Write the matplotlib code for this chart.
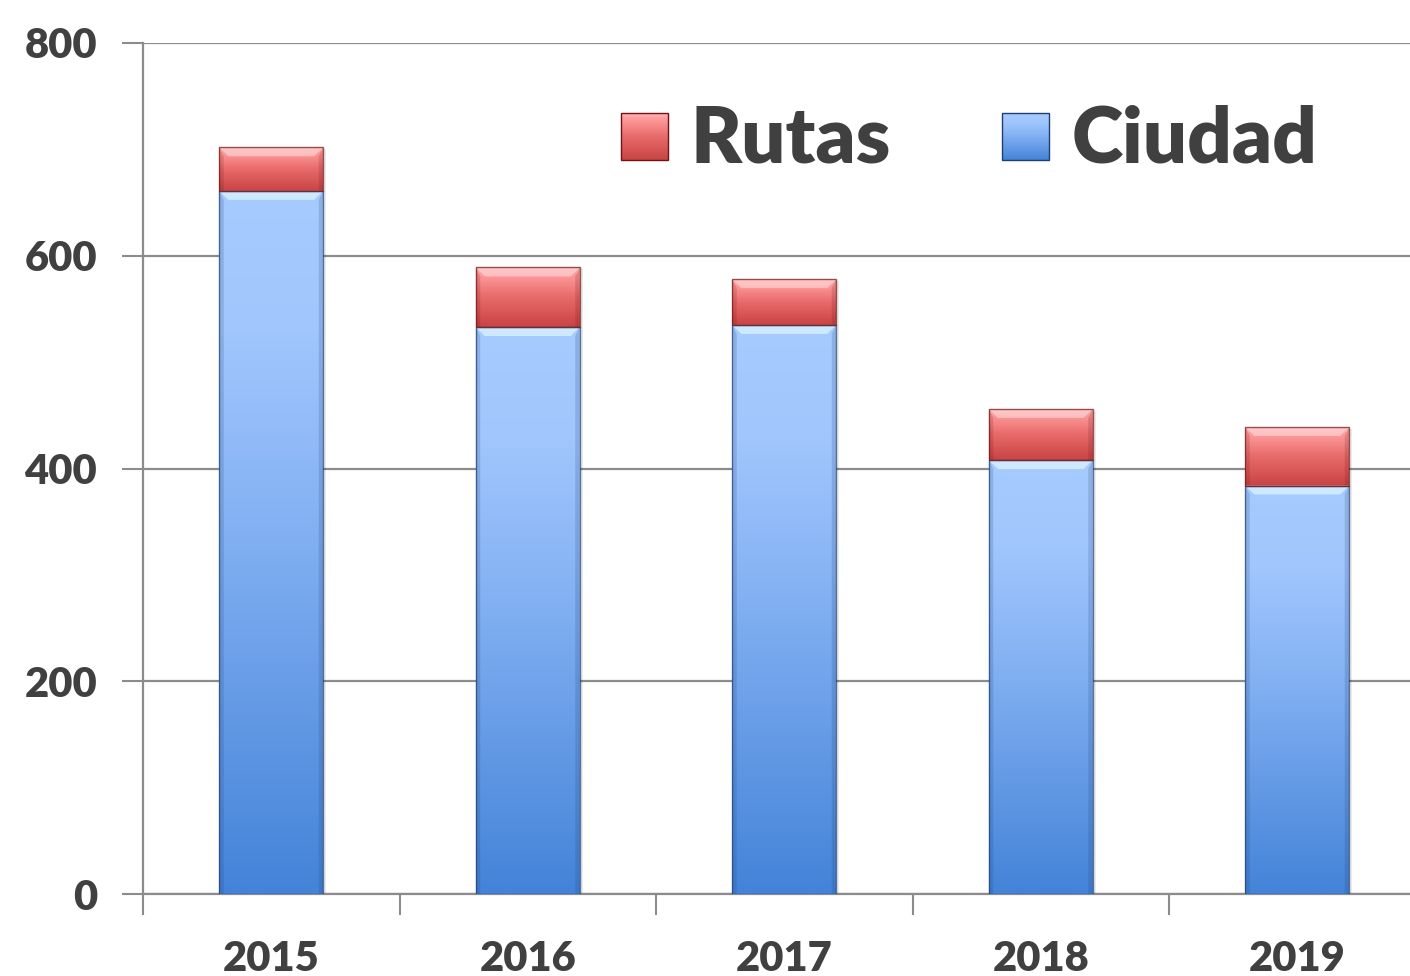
import numpy as np
import matplotlib
matplotlib.use("Agg")
import matplotlib.pyplot as plt
from matplotlib.colors import LinearSegmentedColormap
from matplotlib.patches import Polygon, Rectangle

# Data
years = ["2015", "2016", "2017", "2018", "2019"]
ciudad = [661, 533, 535, 408, 384]
rutas = [41, 56, 43, 48, 55]
series_names = ["Rutas", "Ciudad"]

TEXT = "#404040"
GRID = "#8c8c8c"
FONT = "Lato"

blue_cmap = LinearSegmentedColormap.from_list(
    "blue", [(0.0, "#4483d8"), (0.55, "#86b3f4"), (0.8, "#a1c6fd"), (1.0, "#a6cbff")])
red_cmap = LinearSegmentedColormap.from_list(
    "red", [(0.0, "#c94343"), (0.5, "#e86a6a"), (0.9, "#ff9e9e"), (1.0, "#ffb4b4")])

fig = plt.figure(figsize=(14.10, 9.76), dpi=100)
ax = fig.add_axes([143 / 1410, 82 / 976, 1267 / 1410, 851 / 976])

xlim = (-0.5, -0.5 + 1267 / 256.5)
ylim = (0, 800)
width = 104 / 256.5
px_x = 1 / 256.5          # one pixel in x data units
px_y = 800 / 851          # one pixel in y data units

grad = np.linspace(0, 1, 256).reshape(-1, 1)


def bevel_segment(x, bottom, height, cmap, hi, edge, top_bevel=True):
    patch = ax.bar(x, height, width, bottom=bottom, color="none",
                   edgecolor="none", zorder=3)[0]
    img = ax.imshow(grad, extent=[x - width / 2, x + width / 2, bottom, bottom + height],
                    origin="lower", aspect="auto", cmap=cmap, zorder=3,
                    interpolation="bilinear")
    img.set_clip_path(patch)
    x0, x1 = x - width / 2, x + width / 2
    top = bottom + height
    dx, dy = 9 * px_x, 9 * px_y
    if top_bevel:
        ax.add_patch(Polygon([(x0, top), (x1, top), (x1 - dx, top - dy), (x0 + dx, top - dy)],
                             closed=True, facecolor=hi, edgecolor="none", alpha=0.6, zorder=4))
    # darker side bevels
    ax.add_patch(Polygon([(x0, top), (x0 + dx * 0.5, top - dy), (x0 + dx * 0.5, bottom), (x0, bottom)],
                         closed=True, facecolor=edge, edgecolor="none", alpha=0.18, zorder=4))
    ax.add_patch(Polygon([(x1, top), (x1 - dx * 0.5, top - dy), (x1 - dx * 0.5, bottom), (x1, bottom)],
                         closed=True, facecolor=edge, edgecolor="none", alpha=0.18, zorder=4))
    ax.add_patch(Rectangle((x0, bottom), width, height, facecolor="none",
                           edgecolor=edge, linewidth=1.0, alpha=0.7, zorder=5))


xs = np.arange(len(years))
for i in xs:
    # soft shadow
    ax.add_patch(Rectangle((i - width / 2 + 3 * px_x, 0), width, ciudad[i] + rutas[i] - 2 * px_y,
                           facecolor="#000000", alpha=0.08, edgecolor="none", zorder=2))
    bevel_segment(i, 0, ciudad[i], blue_cmap, "#eaffff", "#1f3f73")
    bevel_segment(i, ciudad[i], rutas[i], red_cmap, "#ffdada", "#6e1414")

ax.set_xlim(*xlim)
ax.set_ylim(*ylim)

ax.set_yticks([0, 200, 400, 600, 800])
ax.set_xticks(np.arange(-0.5, 4.6, 1.0))
ax.set_xticks(xs, labels=years, minor=True)
ax.tick_params(axis="x", which="major", length=15, width=1.5, color=GRID, labelbottom=False,
               direction="out")
ax.tick_params(axis="x", which="minor", length=0, pad=33)
ax.tick_params(axis="y", length=15, width=1.5, color=GRID, pad=18, direction="out")

for lab in ax.get_yticklabels() + ax.get_xticklabels(minor=True):
    lab.set_fontfamily(FONT)
    lab.set_fontweight("heavy")
    lab.set_fontsize(30)
    lab.set_color(TEXT)

ax.yaxis.grid(True, color=GRID, linewidth=1.6, zorder=0)
ax.set_axisbelow(True)
for s in ["top", "right"]:
    ax.spines[s].set_visible(False)
for s in ["left", "bottom"]:
    ax.spines[s].set_color(GRID)
    ax.spines[s].set_linewidth(1.6)

# Legend drawn as gradient squares with labels (axes coordinates)
W_ax, H_ax = 1267, 851


def ax_xy(px, py):
    return (px - 143) / W_ax, (894 - py) / H_ax


def legend_item(px_left, label, cmap, edge):
    x0, y0 = ax_xy(px_left, 160)
    x1, y1 = ax_xy(px_left + 47, 113)
    sq = Rectangle((x0, y0), x1 - x0, y1 - y0, transform=ax.transAxes,
                   facecolor="none", edgecolor="none", zorder=6)
    ax.add_patch(sq)
    im = ax.imshow(grad, extent=[x0, x1, y0, y1], origin="lower", aspect="auto",
                   cmap=cmap, transform=ax.transAxes, zorder=6)
    im.set_clip_path(sq)
    ax.add_patch(Rectangle((x0, y0), x1 - x0, y1 - y0, transform=ax.transAxes,
                           facecolor="none", edgecolor=edge, linewidth=1.0, zorder=7))
    tx, ty = ax_xy(px_left + 70, 140)
    ax.text(tx, ty, label, transform=ax.transAxes, fontfamily=FONT, fontweight="heavy",
            fontsize=56, color=TEXT, va="center", ha="left", zorder=7)


legend_item(621, series_names[0], red_cmap, "#6e1414")
legend_item(1002, series_names[1], blue_cmap, "#1f3f73")

ax.set_xlim(*xlim)
ax.set_ylim(*ylim)

fig.savefig("out.png", dpi=100)
